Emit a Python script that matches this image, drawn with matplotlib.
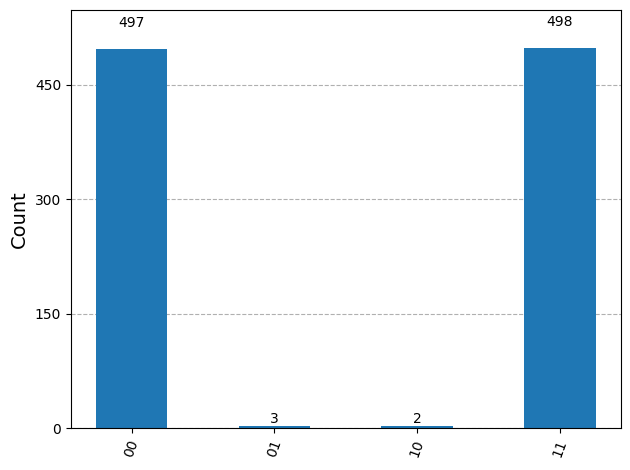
import matplotlib
matplotlib.use("Agg")
import matplotlib.pyplot as plt

labels = ["00", "01", "10", "11"]
counts = [497, 3, 2, 498]

fig, ax = plt.subplots(figsize=(6.3, 4.7), dpi=100)
fig.subplots_adjust(left=71/630, right=620.5/630, top=1-10/470, bottom=1-428/470)

x = list(range(len(labels)))
bars = ax.bar(x, counts, width=0.5, color="#1f77b4", zorder=2)
for rect, c in zip(bars, counts):
    ax.text(rect.get_x() + rect.get_width()/2, 1.05*rect.get_height(), str(c),
            ha="center", va="bottom", fontsize=10)

ax.set_xticks(x)
ax.set_xticklabels(labels, rotation=70, fontsize=10)
ax.set_ylim(0, 1.1*max(counts))
ax.set_yticks([0, 150, 300, 450])
ax.set_ylabel("Count", fontsize=14)
ax.grid(axis="y", linestyle="--", color="#b0b0b0", zorder=0)
ax.set_axisbelow(True)

fig.savefig("out.png", dpi=100)
